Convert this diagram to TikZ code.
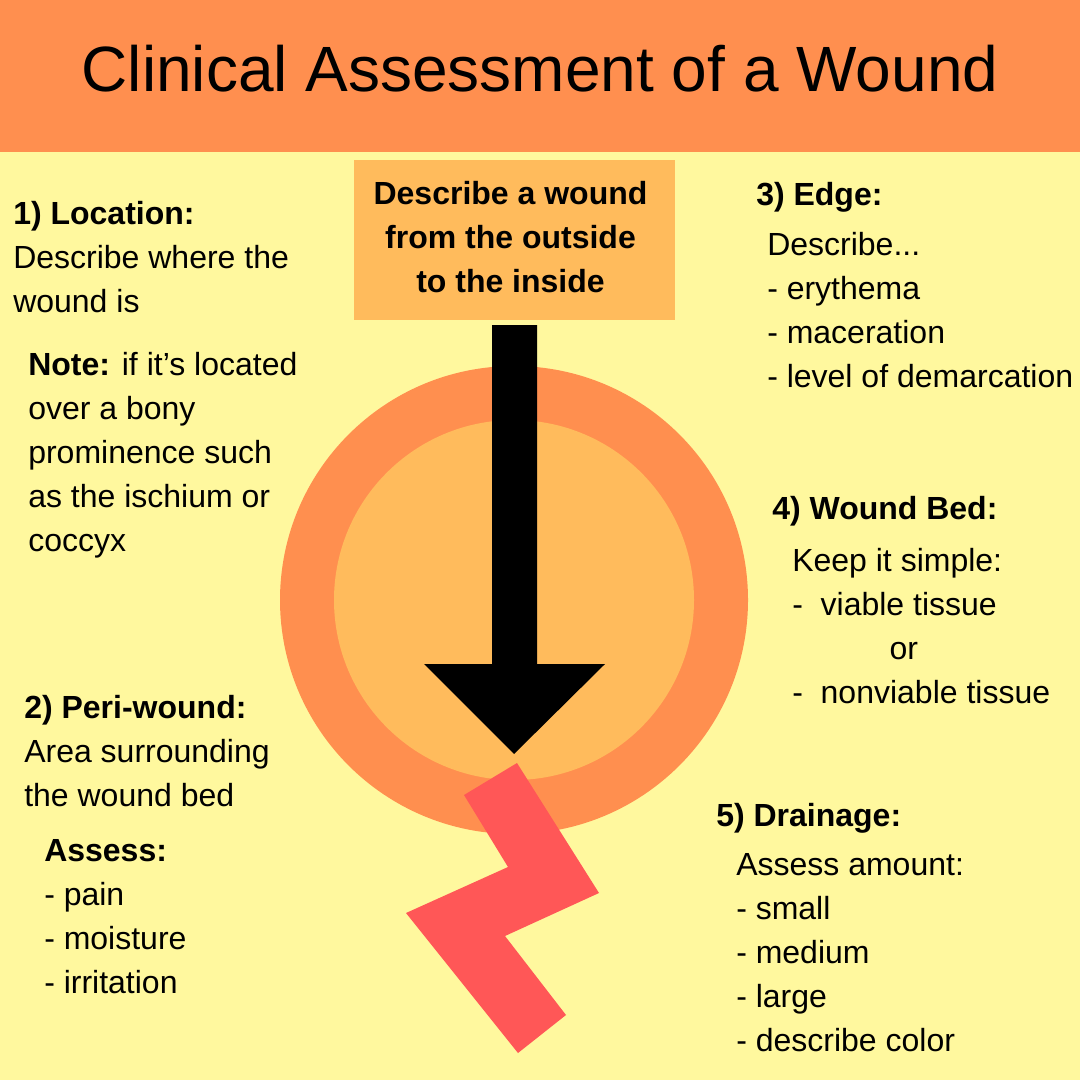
\documentclass[tikz,border=0pt]{standalone}
\usepackage{fontspec}
\setmainfont{Liberation Sans}
\usepackage{tikz}
\definecolor{bandorange}{RGB}{255,143,79}
\definecolor{paleyellow}{RGB}{255,248,158}
\definecolor{softorange}{RGB}{255,187,92}
\definecolor{zigred}{RGB}{255,87,87}
\tikzset{
  txt/.style={anchor=north west,inner sep=0pt,align=left,font=\fontsize{24}{33}\selectfont},
  head/.style={txt,font=\fontsize{24}{33}\selectfont\bfseries}
}

\begin{document}
\begin{tikzpicture}[x=0.75pt,y=0.75pt,yscale=-1,xscale=1]
\useasboundingbox (0,0) rectangle (1080,1080);

% background and header band
\fill[paleyellow] (0,0) rectangle (1080,1080);
\fill[bandorange] (0,0) rectangle (1080,152);
\node (title) at (540,69) {\fontsize{48}{52}\selectfont Clinical Assessment of a Wound};

% wound rings
\fill[bandorange] (514,600) circle (234);
\fill[softorange] (514,600) circle (180);

% instruction box
\fill[softorange] (354,160) rectangle (675,320);
\node[align=center,font=\fontsize{24}{33}\selectfont\bfseries] (describe) at (510.5,237) {Describe a wound\\from the outside\\to the inside};

% big arrow
\fill[black] (492,325) -- (537,325) -- (537,664) -- (605,664) -- (514,754) -- (424,664) -- (492,664) -- cycle;

% zigzag
\fill[zigred] (464,795) -- (517,763) -- (599,893) -- (505,936) -- (566,1015) -- (518,1053) -- (406,913) -- (508,867) -- cycle;

% 1) location
\node[txt] (location) at (13,201) {\textbf{1) Location:}\\Describe where the\\wound is};
\node[txt] (note) at (28,352) {\textbf{Note:} if it's located\\over a bony\\prominence such\\as the ischium or\\coccyx};

% 2) peri-wound
\node[txt] (peri) at (24,695) {\textbf{2) Peri-wound:}\\Area surrounding\\the wound bed};
\node[txt] (assess) at (44,839) {\textbf{Assess:}\\- pain\\- moisture\\- irritation};

% 3) edge
\node[head] (edge) at (756,182) {3) Edge:};
\node[txt] (edgelist) at (767,232) {Describe...\\- erythema\\- maceration\\- level of demarcation};

% 4) wound bed
\node[head] (bed) at (772,496) {4) Wound Bed:};
\node[txt] (bedlist) at (792,548) {Keep it simple:\\-\ \ viable tissue\\\hspace*{73pt}or\\-\ \ nonviable tissue};

% 5) drainage
\node[head] (drain) at (716,803) {5) Drainage:};
\node[txt] (drainlist) at (736,853) {Assess amount:\\- small\\- medium\\- large\\- describe color};

\end{tikzpicture}
\end{document}
